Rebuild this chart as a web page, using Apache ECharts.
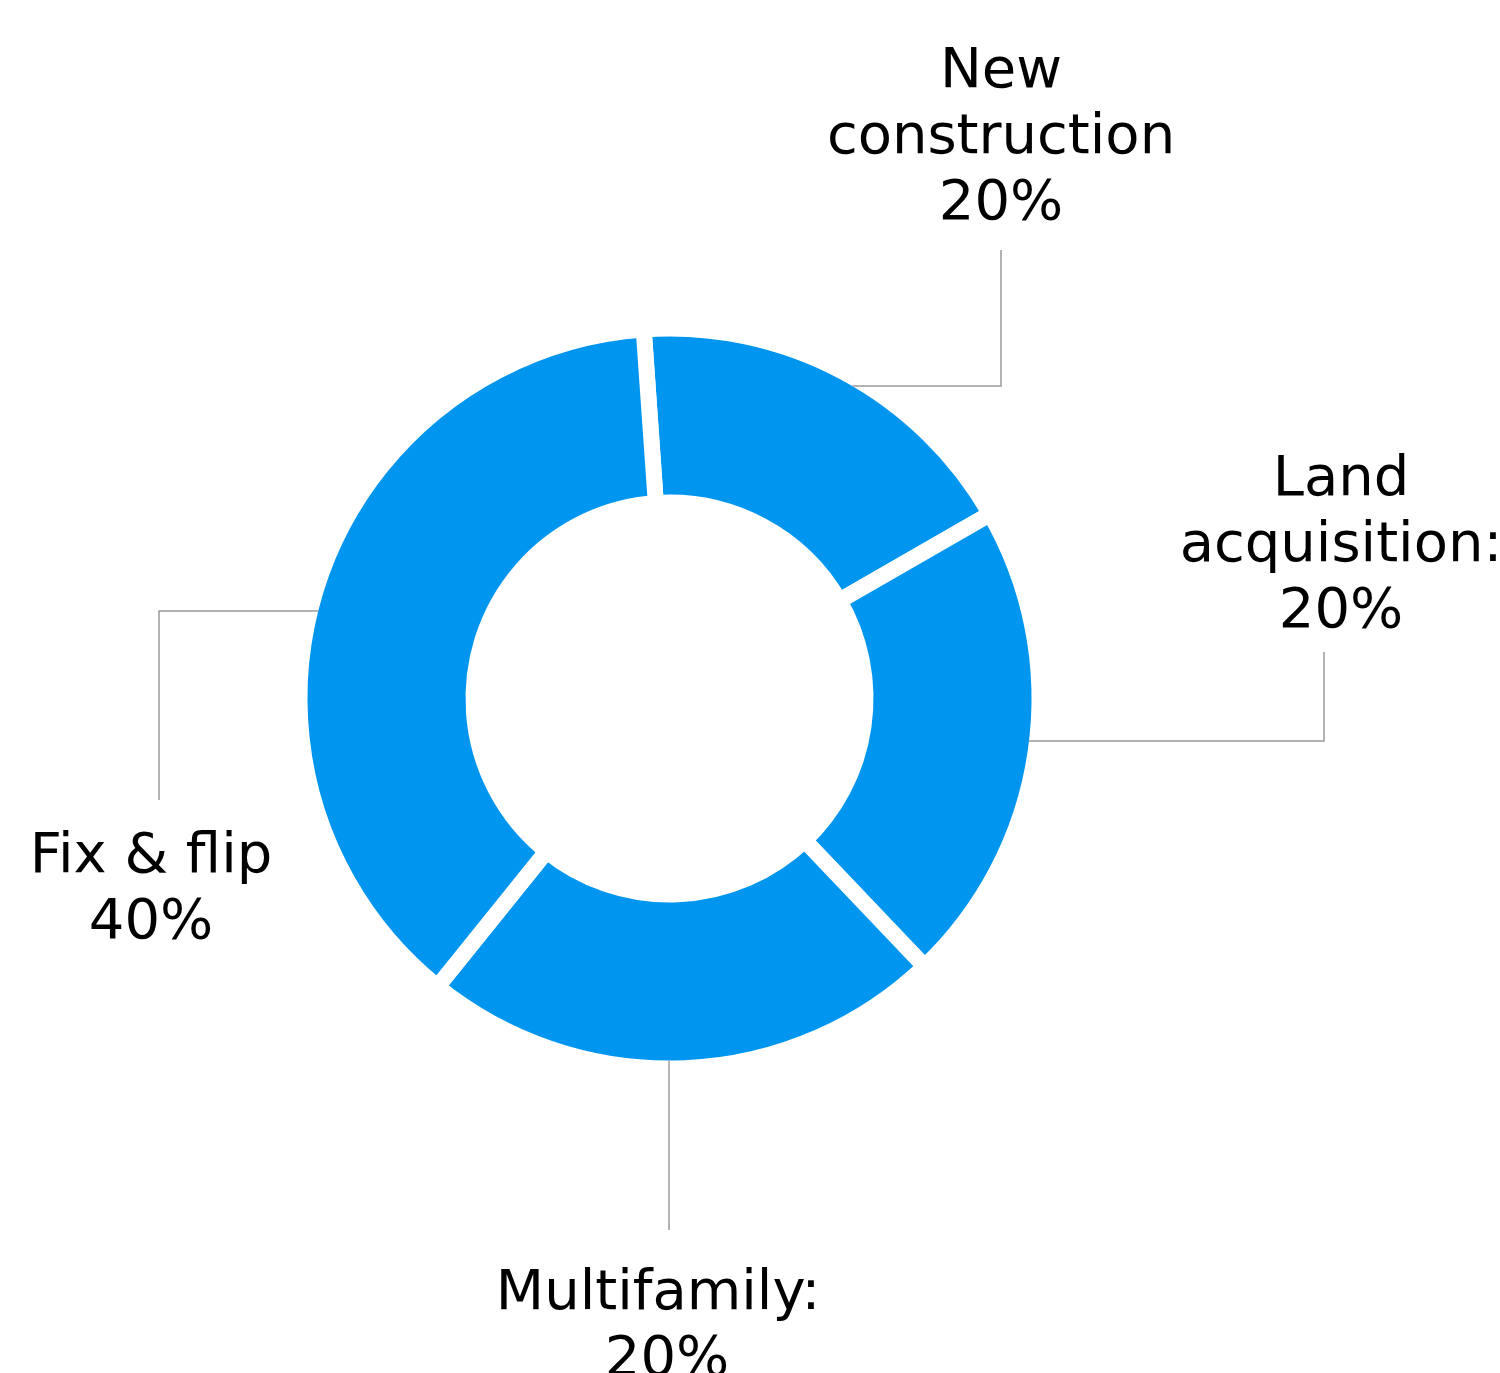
<!DOCTYPE html>
<html>
<head>
<meta charset="utf-8">
<script src="https://cdn.jsdelivr.net/npm/echarts@6.0.0/dist/echarts.min.js"></script>
<style>
  html, body { margin: 0; padding: 0; background: #ffffff; }
  #chart { width: 1500px; height: 1373px; }
</style>
</head>
<body>
<div id="chart"></div>
<script>
// ---- data ----
const categories = ['New construction', 'Land acquisition', 'Multifamily', 'Fix & flip'];
const labelNames = ['New\nconstruction', 'Land\nacquisition:', 'Multifamily: ', 'Fix & flip'];
const labelPercents = [20, 20, 20, 40];
const sliceShares = [17.8, 21.2, 22.9, 38.1];

// ---- layout (positions / styles) ----
const CX = 669.5, CY = 698.5, R_VIS = 362;
const BORDER = 16;
const RADIUS = [204 - BORDER / 2, R_VIS + BORDER / 2];
const leaderLayout = [
  { y: 386, side: 1, x: 1001, endY: 250, labelX: 1001, labelY: 138 },
  { y: 741, side: 1, x: 1324, endY: 652, labelX: 1341, labelY: 546 },
  { vertical: true, x: 669, endY: 1230, labelX: 667, labelY: 1327 },
  { y: 611, side: -1, x: 159, endY: 800, labelX: 151, labelY: 890 }
];

function arcXAt(y, side) {
  const dy = y - CY;
  return CX + side * Math.sqrt(R_VIS * R_VIS - dy * dy);
}

const pieData = categories.map(function (name, i) {
  return { name: name, value: sliceShares[i] };
});

const chart = echarts.init(document.getElementById('chart'), null, { renderer: 'canvas' });

const option = {
  backgroundColor: '#ffffff',
  animation: false,
  series: [{
    // ring with white separators
    type: 'pie',
    z: 1,
    center: [CX, CY],
    radius: RADIUS,
    startAngle: 94,
    clockwise: true,
    silent: true,
    label: { show: false },
    labelLine: { show: false },
    itemStyle: {
      color: '#0096f0',
      borderColor: '#ffffff',
      borderWidth: BORDER
    },
    data: pieData
  }, {
    // labels and leader lines, drawn above the ring
    type: 'pie',
    z: 3,
    center: [CX, CY],
    radius: [204, R_VIS],
    startAngle: 94,
    clockwise: true,
    avoidLabelOverlap: false,
    silent: true,
    itemStyle: {
      color: 'rgba(0,0,0,0)',
      borderWidth: 0
    },
    label: {
      show: true,
      position: 'outside',
      fontFamily: 'DejaVu Sans',
      fontSize: 56,
      lineHeight: 66,
      color: '#000000',
      align: 'center',
      formatter: function (p) {
        return labelNames[p.dataIndex] + '\n' + labelPercents[p.dataIndex] + '%';
      }
    },
    labelLine: {
      show: true,
      minTurnAngle: 0,
      maxSurfaceAngle: 180,
      lineStyle: { color: '#9a9a9a', width: 1.5 }
    },
    labelLayout: function (params) {
      const L = leaderLayout[params.dataIndex];
      let pts;
      if (L.vertical) {
        const dx = L.x - CX;
        const y0 = CY + Math.sqrt(R_VIS * R_VIS - dx * dx);
        pts = [[L.x, y0], [L.x, (y0 + L.endY) / 2], [L.x, L.endY]];
      } else {
        const x0 = arcXAt(L.y, L.side);
        pts = [[x0, L.y], [L.x, L.y], [L.x, L.endY]];
      }
      return {
        x: L.labelX,
        y: L.labelY,
        align: 'center',
        verticalAlign: 'middle',
        labelLinePoints: pts
      };
    },
    data: pieData
  }]
};

chart.setOption(option);
</script>
</body>
</html>
